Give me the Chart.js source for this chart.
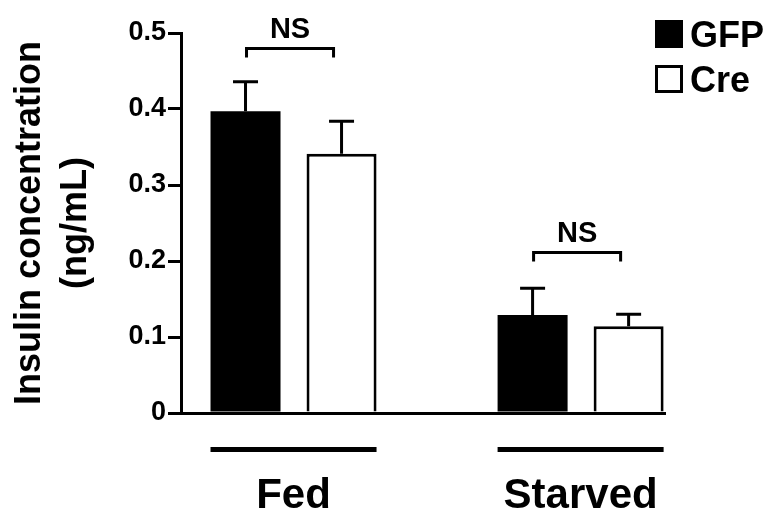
<!DOCTYPE html>
<html>
<head>
<meta charset="utf-8">
<script src="https://cdn.jsdelivr.net/npm/chart.js@4.4.1/dist/chart.umd.min.js"></script>
<style>
  html, body { margin: 0; padding: 0; background: #fff; }
  canvas { display: block; }
</style>
</head>
<body>
<canvas id="grafica" width="779" height="516"></canvas>
<script>
// --- Data ---
const categories = ['Fed', 'Starved'];
const gfpMean    = [0.397, 0.129];
const gfpErr     = [0.039, 0.035];
const creMean    = [0.341, 0.114];
const creErr     = [0.043, 0.016];
const sigLabels  = ['NS', 'NS'];
const sigLevel   = [0.480, 0.212];   // height of the NS brackets
const yTicks     = [0, 0.1, 0.2, 0.3, 0.4, 0.5];

const FONT = '"Liberation Sans", Arial, Helvetica, sans-serif';
Chart.defaults.font.family = FONT;
Chart.defaults.color = '#000';

const toPoints = arr => arr.map((v, i) => ({ x: i, y: v }));

// --- Error bars (upper only) ---
const errorBars = {
  id: 'errorBars',
  afterDatasetsDraw(chart) {
    const { ctx, scales: { y } } = chart;
    ctx.save();
    ctx.strokeStyle = '#000';
    ctx.lineWidth = 3;
    chart.data.datasets.forEach((ds, di) => {
      chart.getDatasetMeta(di).data.forEach((bar, i) => {
        const top = y.getPixelForValue(ds.data[i].y + ds.errors[i]);
        ctx.beginPath();
        ctx.moveTo(bar.x, bar.y);
        ctx.lineTo(bar.x, top);
        ctx.moveTo(bar.x - 12.5, top);
        ctx.lineTo(bar.x + 12.5, top);
        ctx.stroke();
      });
    });
    ctx.restore();
  }
};

// --- Group underline + NS brackets ---
const groupMarks = {
  id: 'groupMarks',
  afterDraw(chart) {
    const { ctx, scales: { y } } = chart;
    const m0 = chart.getDatasetMeta(0).data;
    const m1 = chart.getDatasetMeta(1).data;
    ctx.save();
    ctx.strokeStyle = '#000';
    ctx.fillStyle = '#000';
    categories.forEach((c, i) => {
      const left  = m0[i].x - m0[i].width / 2;
      const right = m1[i].x + m1[i].width / 2;
      ctx.lineWidth = 5;
      ctx.beginPath();
      ctx.moveTo(left, 449.5);
      ctx.lineTo(right, 449.5);
      ctx.stroke();

      const yb = Math.round(y.getPixelForValue(sigLevel[i])) + 0.5;
      const xl = m0[i].x + 1, xr = m1[i].x - 8;
      ctx.lineWidth = 3;
      ctx.beginPath();
      ctx.moveTo(xl, yb + 9);
      ctx.lineTo(xl, yb);
      ctx.lineTo(xr, yb);
      ctx.lineTo(xr, yb + 9);
      ctx.stroke();
      ctx.font = 'bold 29px ' + FONT;
      ctx.textAlign = 'center';
      ctx.textBaseline = 'alphabetic';
      ctx.fillText(sigLabels[i], (xl + xr) / 2, yb - 11);
    });
    ctx.restore();
  }
};

// --- Legend (top right) ---
const legendBox = {
  id: 'legendBox',
  afterDraw(chart) {
    const { ctx } = chart;
    const rows = [20, 65];
    ctx.save();
    ctx.font = 'bold 36px ' + FONT;
    ctx.textBaseline = 'alphabetic';
    ctx.textAlign = 'left';
    chart.data.datasets.forEach((ds, i) => {
      const top = rows[i];
      ctx.fillStyle = ds.backgroundColor;
      ctx.fillRect(655, top, 28, 28);
      if (ds.borderWidth) {
        ctx.strokeStyle = '#000';
        ctx.lineWidth = 3;
        ctx.strokeRect(656.5, top + 1.5, 25, 25);
      }
      ctx.fillStyle = '#000';
      ctx.fillText(ds.label, 690, top + 27);
    });
    ctx.restore();
  }
};

const ctx = document.getElementById('grafica').getContext('2d');
new Chart(ctx, {
  type: 'bar',
  data: {
    datasets: [
      { label: 'GFP', data: toPoints(gfpMean), errors: gfpErr,
        backgroundColor: '#000', borderColor: '#000', borderWidth: 0 },
      { label: 'Cre', data: toPoints(creMean), errors: creErr,
        backgroundColor: '#fff', borderColor: '#000', borderWidth: 3, borderSkipped: 'bottom' }
    ]
  },
  options: {
    responsive: false,
    animation: false,
    devicePixelRatio: 1,
    layout: { padding: { top: 33, right: 114, bottom: 0, left: 0 } },
    plugins: { legend: { display: false }, tooltip: { enabled: false } },
    datasets: { bar: { categoryPercentage: 0.669, barPercentage: 0.729 } },
    scales: {
      x: {
        type: 'linear',
        min: -0.392,
        max: 1.294,
        offset: false,
        grid: { display: false, offset: false },
        border: { color: '#000', width: 3 },
        afterBuildTicks: s => { s.ticks = categories.map((c, i) => ({ value: i })); },
        afterFit: s => { s.height = 103; },
        ticks: {
          callback: v => categories[v],
          font: { size: 42, weight: 'bold' },
          padding: 50,
          maxRotation: 0,
          autoSkip: false
        }
      },
      y: {
        min: 0,
        max: 0.5,
        afterBuildTicks: s => { s.ticks = yTicks.map(v => ({ value: v })); },
        afterFit: s => { s.width = 181; },
        grid: { drawOnChartArea: false, drawTicks: true, tickLength: 13, color: '#000', lineWidth: 3 },
        border: { color: '#000', width: 3 },
        ticks: {
          callback: v => String(v),
          font: { size: 27, weight: 'bold' },
          padding: 2
        },
        title: {
          display: true,
          text: ['Insulin concentration', '(ng/mL)'],
          font: { size: 36, weight: 'bold', lineHeight: 1.28 },
          padding: { top: 7, bottom: 0 }
        }
      }
    }
  },
  plugins: [errorBars, groupMarks, legendBox]
});
</script>
</body>
</html>
